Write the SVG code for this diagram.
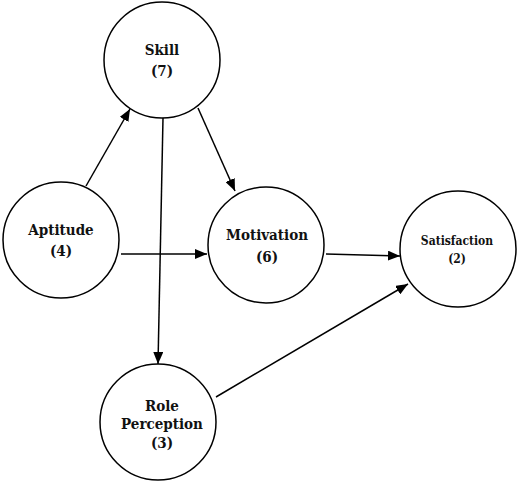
<svg xmlns="http://www.w3.org/2000/svg" width="520" height="482" viewBox="0 0 520 482">
<style>
.n{fill:#fff;stroke:#000;stroke-width:1.5}
text{font-family:'DejaVu Serif Condensed','DejaVu Serif',serif;font-stretch:condensed;font-weight:bold;font-size:15px;text-anchor:middle;fill:#111}
text.s{font-size:12px}
.c{stroke:#000;stroke-width:1.5;fill:none;marker-end:url(#a)}
</style>
<defs>
<marker id="a" viewBox="0 0 12 10" refX="12" refY="5" markerWidth="12" markerHeight="10" markerUnits="userSpaceOnUse" orient="auto">
<path d="M0,0 L12,5 L0,10 Z" fill="#000"/>
</marker>
</defs>
<rect width="520" height="482" fill="#fff"/>
<g id="connectors">
<line class="c" x1="86" y1="186" x2="130" y2="109"/>
<line class="c" x1="198" y1="108" x2="235" y2="191"/>
<line class="c" x1="163" y1="118" x2="158" y2="364"/>
<line class="c" x1="121" y1="254" x2="207" y2="254"/>
<line class="c" x1="326" y1="254" x2="400" y2="256"/>
<line class="c" x1="216" y1="397" x2="408" y2="284"/>
</g>
<g id="skill"><circle class="n" cx="162" cy="60" r="58"/><text x="162" y="55">Skill</text><text x="162" y="76">(7)</text></g>
<g id="aptitude"><circle class="n" cx="61" cy="240" r="58"/><text x="61" y="235">Aptitude</text><text x="61" y="256">(4)</text></g>
<g id="motivation"><circle class="n" cx="266" cy="245" r="58"/><text x="267" y="240">Motivation</text><text x="267" y="262">(6)</text></g>
<g id="satisfaction"><circle class="n" cx="458" cy="249" r="58"/><text class="s" x="457" y="245">Satisfaction</text><text class="s" x="457" y="263">(2)</text></g>
<g id="role"><circle class="n" cx="158" cy="422" r="58"/><text x="162" y="411">Role</text><text x="162" y="429">Perception</text><text x="162" y="448">(3)</text></g>
</svg>
